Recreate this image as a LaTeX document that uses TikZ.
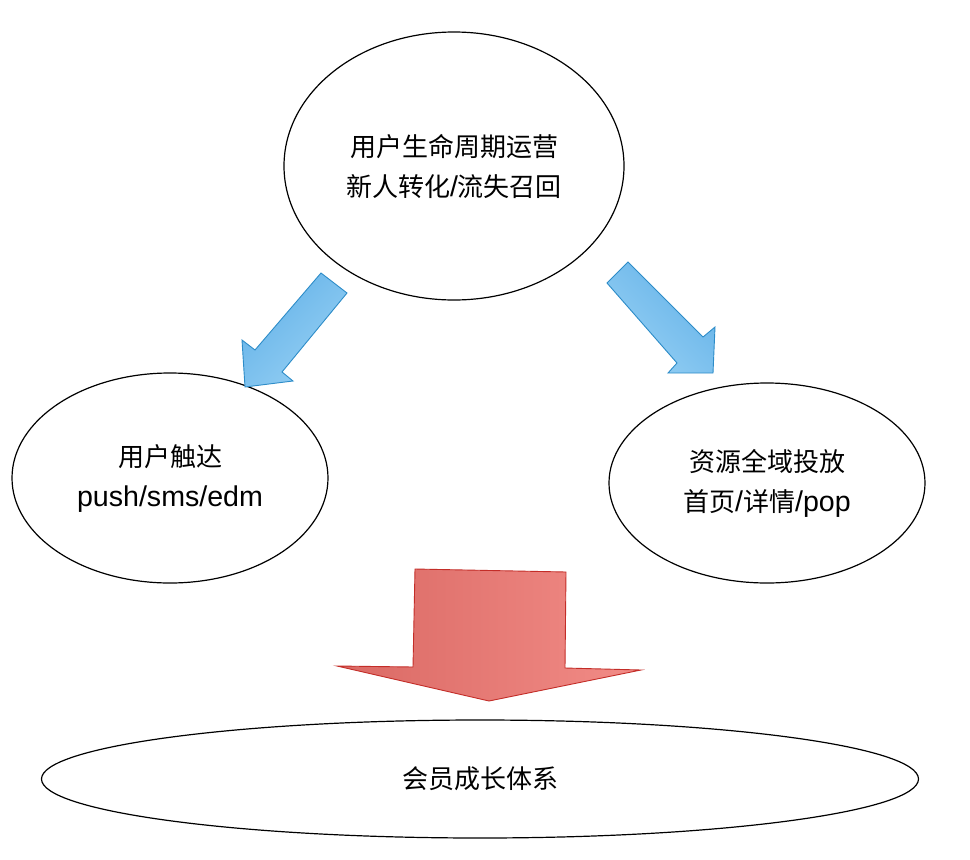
\documentclass[tikz,border=0pt]{standalone}
\usepackage{fontspec}
\setmainfont[Scale=1.1]{Liberation Sans}
\newfontfamily\cjk{Noto Sans CJK SC}
\usetikzlibrary{shapes.geometric}

\definecolor{blueline}{RGB}{45,140,200}
\definecolor{bluedark}{RGB}{100,178,232}
\definecolor{bluelight}{RGB}{150,208,244}
\definecolor{redline}{RGB}{195,45,40}
\definecolor{reddark}{RGB}{218,105,100}
\definecolor{redlight}{RGB}{242,140,135}

\begin{document}
\begin{tikzpicture}[x=1pt,y=-1pt,
  oval/.style={ellipse,draw,line width=1.2pt,inner sep=0pt,align=center,
               font=\fontsize{26}{40}\selectfont},
  bluearrow/.style={draw=blueline,line width=0.9pt,line join=miter,
               left color=bluedark,right color=bluelight,shading angle=45},
  redarrow/.style={draw=redline,line width=0.9pt,line join=miter,
               left color=reddark,right color=redlight},
]
  \useasboundingbox (0,0) rectangle (970,860);

  \node[oval,minimum width=340pt,minimum height=268pt] (life) at (454,166)
    {{\cjk 用户生命周期运营}\\{\cjk 新人转化}/{\cjk 流失召回}};
  \node[oval,minimum width=316pt,minimum height=210pt] (reach) at (170,478)
    {{\cjk 用户触达}\\push/sms/edm};
  \node[oval,minimum width=316pt,minimum height=200pt] (res) at (767,483)
    {{\cjk 资源全域投放}\\{\cjk 首页}/{\cjk 详情}/pop};
  \node[oval,minimum width=877pt,minimum height=118pt] (vip) at (480,779)
    {{\cjk 会员成长体系}};

  \draw[bluearrow] (321,273) -- (347,293) -- (282,372) -- (293,381)
    -- (245,387) -- (242,340) -- (255,350) -- cycle;
  \draw[bluearrow,shading angle=-45] (628,262) -- (607,283) -- (677,363)
    -- (668,373) -- (713,373) -- (715,327) -- (703,337) -- cycle;

  \draw[redarrow] (415,569) -- (566,572) -- (565,668) -- (641,670)
    -- (489,701) -- (337,666) -- (413,667) -- cycle;
\end{tikzpicture}
\end{document}
